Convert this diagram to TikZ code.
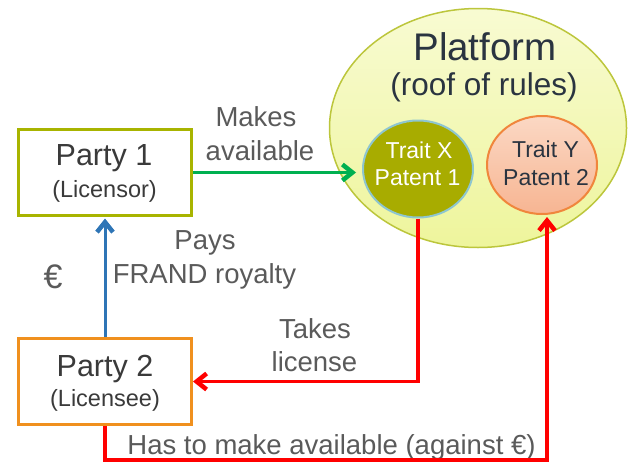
\documentclass[tikz,border=0pt]{standalone}
\usepackage{fontspec}
\setmainfont{Liberation Sans}
\usetikzlibrary{arrows.meta,shapes.geometric}
\newcommand\myfs[1]{\fontsize{#1}{#1}\selectfont}
\definecolor{boxolive}{HTML}{A8B400}
\definecolor{boxorange}{HTML}{F0901E}
\definecolor{txtdark}{HTML}{3A3A3A}
\definecolor{labelgray}{HTML}{5A5A5A}
\definecolor{platdark}{HTML}{2A3440}
\definecolor{platfilltop}{HTML}{F8FBD2}
\definecolor{platfillbot}{HTML}{EEF59C}
\definecolor{platborder}{HTML}{BCC63C}
\definecolor{traitx}{HTML}{A8AC00}
\definecolor{traitxborder}{HTML}{8EC6D0}
\definecolor{traitytop}{HTML}{FBD8C4}
\definecolor{traitybot}{HTML}{F7B592}
\definecolor{traityborder}{HTML}{F0863C}
\definecolor{arrgreen}{HTML}{00B050}
\definecolor{arrblue}{HTML}{2E75B6}
\definecolor{arrred}{HTML}{FF0000}
\begin{document}
\begin{tikzpicture}[x=1pt,y=-1pt,
  txt/.style={inner sep=0pt,anchor=base},
  lbl/.style={txt,text=labelgray,font=\myfs{27.5}},
  party/.style={draw,line width=3pt,minimum width=173pt,minimum height=86pt,inner sep=0pt,fill=white},
  conn/.style={line width=3.5pt,-{Straight Barb[length=10pt,width=16pt,line width=4.5pt]}}
]
\useasboundingbox (0,0) rectangle (628,463);

% platform
\node[ellipse,draw=platborder,line width=1.5pt,top color=platfilltop,bottom color=platfillbot,
  minimum width=297pt,minimum height=239pt,inner sep=0pt] (plat) at (478,128) {};
\node[txt,text=platdark,font=\myfs{38.5}] (plattitle) at (485,60) {Platform};
\node[txt,text=platdark,font=\myfs{31.5}] (platsub) at (484,95) {(roof of rules)};

% traits
\node[ellipse,draw=traitxborder,line width=2pt,fill=traitx,
  minimum width=110pt,minimum height=97pt,inner sep=0pt] (tx) at (418,169) {};
\node[txt,text=white,font=\myfs{23}] (tx1) at (419,158) {Trait X};
\node[txt,text=white,font=\myfs{23}] (tx2) at (417.5,185) {Patent 1};

\node[ellipse,draw=traityborder,line width=2pt,top color=traitytop,bottom color=traitybot,
  minimum width=110pt,minimum height=98pt,inner sep=0pt] (ty) at (542,165) {};
\node[txt,text=platdark,font=\myfs{23}] (ty1) at (545.5,157) {Trait Y};
\node[txt,text=platdark,font=\myfs{23}] (ty2) at (546,185) {Patent 2};

% parties
\node[party,draw=boxolive] (p1) at (105,172.5) {};
\node[txt,text=txtdark,font=\myfs{30.5}] (p1a) at (104,165) {Party 1};
\node[txt,text=txtdark,font=\myfs{23.5}] (p1b) at (104.5,197) {(Licensor)};

\node[party,draw=boxorange] (p2) at (105,381.5) {};
\node[txt,text=txtdark,font=\myfs{30.5}] (p2a) at (105,376) {Party 2};
\node[txt,text=txtdark,font=\myfs{23.5}] (p2b) at (105,406) {(Licensee)};

% labels
\node[lbl] (l1a) at (256,126) {Makes};
\node[lbl] (l1b) at (260,160) {available};
\node[lbl] (l2a) at (205,249) {Pays};
\node[lbl] (l2b) at (204.5,283) {FRAND royalty};
\node[txt,text=labelgray,font=\myfs{34}] (euro) at (53,288) {€};
\node[lbl] (l3a) at (315,338) {Takes};
\node[lbl] (l3b) at (314.5,371) {license};
\node[lbl] (l4) at (331.5,454) {Has to make available (against €)};

% connectors
\draw[conn,draw=arrgreen,shorten >=6pt] (p1.east) -- (p1.east -| tx.west);
\draw[conn,draw=arrblue,line width=3pt,shorten >=1.5pt] (p2.north) -- (p1.south);
\draw[conn,draw=arrred] (tx.south) |- (p2.east);
\coordinate (c1) at (547,460);
\draw[conn,draw=arrred,shorten >=2pt] (p2.south) |- (c1) -- (c1 |- ty.south);
\end{tikzpicture}
\end{document}
